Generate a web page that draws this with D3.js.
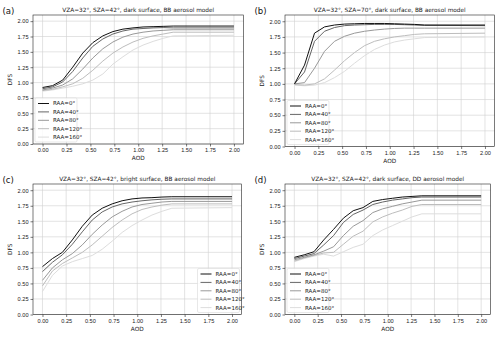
<!DOCTYPE html>
<html>
<head>
<meta charset="utf-8">
<script src="https://d3js.org/d3.v7.min.js"></script>
<style>
  body { margin: 0; background: #fff; }
  svg { font-family: "DejaVu Sans", sans-serif; }
  .tick text { font-size: 5.6px; fill: #222; }
  .grid line { stroke: #d0d0d0; stroke-width: 0.6; }
</style>
</head>
<body>
<svg class="chart" width="500" height="338"></svg>
<script>
// AOD grid shared by every panel
let aod = [0, 0.105, 0.21, 0.315, 0.42, 0.525, 0.63, 0.735, 0.84, 0.945, 1.05, 1.155, 1.26, 1.365, 2.0];

let raaLabels = ["RAA=0°", "RAA=40°", "RAA=80°", "RAA=120°", "RAA=160°"];
let raaColors = ["#111111", "#666666", "#999999", "#bdbdbd", "#dddddd"];

let xTicks = [0, 0.25, 0.5, 0.75, 1.0, 1.25, 1.5, 1.75, 2.0];
let yTicks = [0, 0.25, 0.5, 0.75, 1.0, 1.25, 1.5, 1.75, 2.0];

// panel (a): dark surface, SZA=42
let dfsA0   = [0.92, 0.95, 1.04, 1.25, 1.48, 1.65, 1.76, 1.83, 1.87, 1.89, 1.905, 1.91, 1.915, 1.92, 1.92];
let dfsA40  = [0.90, 0.93, 1.01, 1.18, 1.40, 1.59, 1.71, 1.79, 1.84, 1.87, 1.88, 1.89, 1.895, 1.89, 1.89];
let dfsA80  = [0.88, 0.91, 0.96, 1.06, 1.22, 1.40, 1.55, 1.66, 1.74, 1.79, 1.82, 1.84, 1.85, 1.86, 1.86];
let dfsA120 = [0.87, 0.89, 0.93, 0.98, 1.07, 1.20, 1.35, 1.48, 1.58, 1.66, 1.72, 1.76, 1.79, 1.82, 1.82];
let dfsA160 = [0.86, 0.88, 0.91, 0.94, 0.98, 1.04, 1.14, 1.30, 1.42, 1.53, 1.61, 1.67, 1.72, 1.76, 1.77];

// panel (b): dark surface, SZA=70
let dfsB0   = [1.00, 1.30, 1.81, 1.91, 1.94, 1.955, 1.96, 1.965, 1.965, 1.965, 1.96, 1.955, 1.95, 1.94, 1.94];
let dfsB40  = [1.00, 1.19, 1.68, 1.84, 1.90, 1.93, 1.94, 1.945, 1.95, 1.95, 1.95, 1.945, 1.94, 1.935, 1.93];
let dfsB80  = [1.00, 1.02, 1.25, 1.52, 1.68, 1.76, 1.81, 1.84, 1.86, 1.875, 1.885, 1.89, 1.89, 1.89, 1.89];
let dfsB120 = [0.99, 0.98, 1.00, 1.08, 1.22, 1.37, 1.50, 1.61, 1.68, 1.72, 1.75, 1.77, 1.79, 1.80, 1.81];
let dfsB160 = [0.98, 0.97, 0.98, 1.02, 1.10, 1.20, 1.33, 1.45, 1.55, 1.62, 1.67, 1.70, 1.72, 1.74, 1.75];

// panel (c): bright surface, SZA=42
let dfsC0   = [0.77, 0.90, 1.00, 1.20, 1.42, 1.60, 1.71, 1.78, 1.83, 1.86, 1.875, 1.88, 1.89, 1.895, 1.895];
let dfsC40  = [0.69, 0.84, 0.96, 1.13, 1.33, 1.52, 1.65, 1.73, 1.78, 1.81, 1.83, 1.845, 1.855, 1.86, 1.86];
let dfsC80  = [0.55, 0.75, 0.88, 0.98, 1.12, 1.29, 1.44, 1.57, 1.66, 1.73, 1.77, 1.79, 1.81, 1.82, 1.82];
let dfsC120 = [0.46, 0.70, 0.82, 0.91, 1.00, 1.12, 1.26, 1.40, 1.52, 1.62, 1.69, 1.73, 1.76, 1.78, 1.78];
let dfsC160 = [0.37, 0.63, 0.78, 0.85, 0.90, 0.95, 1.05, 1.18, 1.32, 1.43, 1.52, 1.60, 1.66, 1.71, 1.72];

// panel (d): dark surface, DD aerosol model
let dfsD0   = [0.92, 0.96, 1.01, 1.20, 1.37, 1.55, 1.67, 1.72, 1.82, 1.85, 1.87, 1.89, 1.90, 1.91, 1.91];
let dfsD40  = [0.90, 0.94, 0.98, 1.12, 1.27, 1.48, 1.61, 1.68, 1.77, 1.81, 1.84, 1.86, 1.88, 1.89, 1.89];
let dfsD80  = [0.88, 0.92, 0.96, 1.02, 1.09, 1.27, 1.42, 1.51, 1.64, 1.70, 1.74, 1.78, 1.81, 1.84, 1.84];
let dfsD120 = [0.86, 0.91, 0.95, 0.99, 1.00, 1.13, 1.26, 1.34, 1.49, 1.57, 1.63, 1.68, 1.74, 1.77, 1.77];
let dfsD160 = [0.85, 0.90, 0.94, 0.97, 0.94, 1.01, 1.08, 1.13, 1.27, 1.36, 1.43, 1.50, 1.57, 1.62, 1.62];

let panels = [
  { tag: "(a)", title: "VZA=32°, SZA=42°, dark surface, BB aerosol model",
    box: { left: 33, right: 243.5, top: 15, bottom: 144 }, legend: "left",
    series: [dfsA0, dfsA40, dfsA80, dfsA120, dfsA160] },
  { tag: "(b)", title: "VZA=32°, SZA=70°, dark surface, BB aerosol model",
    box: { left: 285, right: 494.5, top: 15, bottom: 146.5 }, legend: "left",
    series: [dfsB0, dfsB40, dfsB80, dfsB120, dfsB160] },
  { tag: "(c)", title: "VZA=32°, SZA=42°, bright surface, BB aerosol model",
    box: { left: 33, right: 241.5, top: 184, bottom: 314.5 }, legend: "right",
    series: [dfsC0, dfsC40, dfsC80, dfsC120, dfsC160] },
  { tag: "(d)", title: "VZA=32°, SZA=42°, dark surface, DD aerosol model",
    box: { left: 285, right: 490.5, top: 184, bottom: 314.5 }, legend: "left",
    series: [dfsD0, dfsD40, dfsD80, dfsD120, dfsD160] }
];

function drawPanel(svg, p) {
  let b = p.box;
  let w = b.right - b.left;
  let h = b.bottom - b.top;

  let x = d3.scaleLinear().domain([-0.1, 2.1]).range([0, w]);
  let y = d3.scaleLinear().domain([0, 2.1]).range([h, 0]);

  let g = svg.append("g").attr("transform", `translate(${b.left}, ${b.top})`);

  // grid
  g.append("g").attr("class", "grid")
   .selectAll("line").data(xTicks).join("line")
   .attr("x1", d => x(d)).attr("x2", d => x(d)).attr("y1", 0).attr("y2", h);
  g.append("g").attr("class", "grid")
   .selectAll("line").data(yTicks).join("line")
   .attr("y1", d => y(d)).attr("y2", d => y(d)).attr("x1", 0).attr("x2", w);

  // axes
  let xa = g.append("g").attr("transform", `translate(0, ${h})`)
    .call(d3.axisBottom(x).tickValues(xTicks).tickFormat(d3.format(".2f")).tickSize(2.5).tickPadding(2));
  let ya = g.append("g")
    .call(d3.axisLeft(y).tickValues(yTicks).tickFormat(d3.format(".2f")).tickSize(2.5).tickPadding(2));
  [xa, ya].forEach(a => {
    a.select(".domain").remove();
    a.selectAll(".tick line").attr("stroke", "#222").attr("stroke-width", 0.6);
  });

  // curves
  let line = d3.line().x((d, i) => x(aod[i])).y(d => y(d));
  for (let i = p.series.length - 1; i >= 0; i--) {
    g.append("path")
     .datum(p.series[i])
     .attr("fill", "none")
     .attr("stroke", raaColors[i])
     .attr("stroke-width", 1)
     .attr("d", line);
  }

  // frame
  g.append("rect").attr("width", w).attr("height", h)
   .attr("fill", "none").attr("stroke", "#222").attr("stroke-width", 0.6);

  // legend
  let lw = 42, lh = 44;
  let lx = p.legend == "left" ? 2 : w - lw - 2;
  let ly = h - lh - 2;
  let lg = g.append("g").attr("transform", `translate(${lx}, ${ly})`);
  lg.append("rect").attr("width", lw).attr("height", lh).attr("rx", 1.5)
    .attr("fill", "#fff").attr("fill-opacity", 0.85)
    .attr("stroke", "#d8d8d8").attr("stroke-width", 0.6);
  raaLabels.forEach((lab, i) => {
    let yy = 5.5 + i * 8.4;
    lg.append("line").attr("x1", 3).attr("x2", 14).attr("y1", yy).attr("y2", yy)
      .attr("stroke", raaColors[i]).attr("stroke-width", 1);
    lg.append("text").attr("x", 18).attr("y", yy + 1.9)
      .attr("font-size", 5.5).attr("fill", "#222").text(lab);
  });

  // labels
  g.append("text").attr("x", w / 2).attr("y", -3.5).attr("text-anchor", "middle")
   .attr("font-size", 5.8).attr("fill", "#222").text(p.title);
  g.append("text").attr("x", w / 2).attr("y", h + 16).attr("text-anchor", "middle")
   .attr("font-size", 5.8).attr("fill", "#222").text("AOD");
  g.append("text").attr("transform", `translate(${-21}, ${h / 2}) rotate(-90)`)
   .attr("text-anchor", "middle").attr("font-size", 5.8).attr("fill", "#222").text("DFS");
  svg.append("text").attr("x", b.left - 30.5).attr("y", b.top - 1)
   .attr("font-size", 8.5).attr("fill", "#111").text(p.tag);
}

let svg = d3.select(".chart");
panels.forEach(p => drawPanel(svg, p));
</script>
</body>
</html>
